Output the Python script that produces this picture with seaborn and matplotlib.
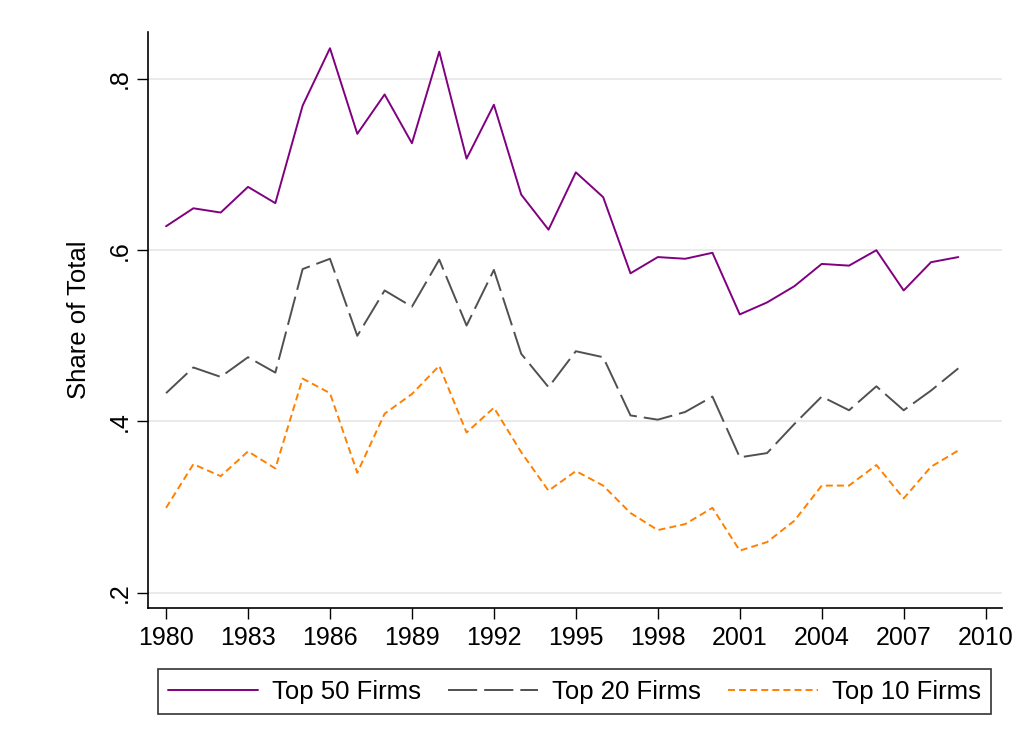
import numpy as np
import pandas as pd
import matplotlib
matplotlib.use("Agg")
import matplotlib.pyplot as plt
import seaborn as sns
from matplotlib.ticker import FuncFormatter

years = list(range(1980, 2010))
top50 = [0.628, 0.649, 0.644, 0.674, 0.655, 0.769, 0.836, 0.736, 0.782, 0.725,
         0.832, 0.707, 0.770, 0.665, 0.624, 0.691, 0.662, 0.573, 0.592, 0.590,
         0.597, 0.525, 0.539, 0.558, 0.584, 0.582, 0.600, 0.553, 0.586, 0.592]
top20 = [0.433, 0.463, 0.452, 0.475, 0.457, 0.578, 0.590, 0.500, 0.553, 0.534,
         0.589, 0.512, 0.577, 0.479, 0.440, 0.482, 0.475, 0.407, 0.402, 0.411,
         0.429, 0.358, 0.363, 0.397, 0.429, 0.413, 0.441, 0.413, 0.436, 0.462]
top10 = [0.299, 0.350, 0.336, 0.365, 0.345, 0.450, 0.433, 0.340, 0.409, 0.432,
         0.465, 0.387, 0.416, 0.364, 0.319, 0.342, 0.325, 0.293, 0.273, 0.280,
         0.299, 0.249, 0.259, 0.284, 0.325, 0.325, 0.349, 0.310, 0.347, 0.366]
series_names = ["Top 50 Firms", "Top 20 Firms", "Top 10 Firms"]
xticks = list(range(1980, 2011, 3))
yticks = [0.2, 0.4, 0.6, 0.8]

sns.set_theme(style="white")
plt.rcParams['font.family'] = ['Liberation Sans', 'DejaVu Sans']
plt.rcParams.update({"text.color": "black", "axes.labelcolor": "black",
                     "xtick.color": "black", "ytick.color": "black"})

df = pd.DataFrame({"Year": years * 3,
                   "Share": top50 + top20 + top10,
                   "Series": sum([[n] * len(years) for n in series_names], [])})

fig = plt.figure(figsize=(10.23, 7.47), dpi=100)
ax = fig.add_axes([0.1447, 0.1861, 0.8348, 0.7711])

palette = {"Top 50 Firms": "#800080", "Top 20 Firms": "#505050", "Top 10 Firms": "#ff8000"}
dashes = {"Top 50 Firms": "", "Top 20 Firms": (15, 3.6), "Top 10 Firms": (3.6, 2.1)}
sns.lineplot(data=df, x="Year", y="Share", hue="Series", style="Series",
             palette=palette, dashes=dashes, linewidth=1.4, ax=ax, legend=True)

ax.set_xlim(1979.34, 2010.6)
ax.set_ylim(0.182, 0.855)
ax.set_xticks(xticks)
ax.set_yticks(yticks)
ax.yaxis.set_major_formatter(FuncFormatter(lambda v, p: ("%.1f" % v).lstrip("0")))
ax.grid(axis="y", color="#e6e6e6", linewidth=1.2)
ax.grid(axis="x", visible=False)
for s in ["top", "right"]:
    ax.spines[s].set_visible(False)
for s in ["left", "bottom"]:
    ax.spines[s].set_color("black")
    ax.spines[s].set_linewidth(1.2)
ax.tick_params(axis="both", direction="out", length=8, width=1.0, color="black",
               labelcolor="black", labelsize=18, bottom=True, left=True)
ax.tick_params(axis="x", pad=5)
ax.tick_params(axis="y", pad=4)
for lab in ax.get_yticklabels():
    lab.set_rotation(90)
    lab.set_va("center")
ax.set_xlabel("")
ax.set_ylabel("Share of Total", fontsize=18.5, labelpad=12, color="black")

handles, labels = ax.get_legend_handles_labels()
ax.get_legend().remove()
leg = fig.legend(handles, labels, ncol=3, loc="lower left",
                 bbox_to_anchor=(0.1545, 0.0442, 0.8143, 0.0629), mode="expand",
                 fontsize=18.5, frameon=True, fancybox=False, edgecolor="black",
                 handlelength=3.5, handletextpad=0.55, borderaxespad=0, borderpad=0.4)
leg.get_frame().set_linewidth(1.2)
for t in leg.get_texts():
    t.set_color("black")

fig.savefig("out.png", dpi=100, facecolor="white")
